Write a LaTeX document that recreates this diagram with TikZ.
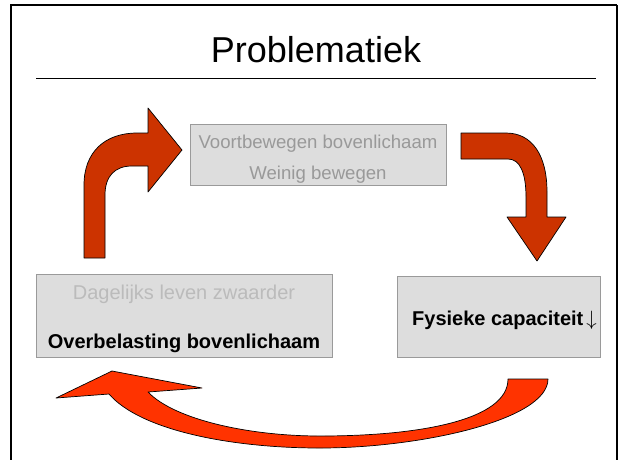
\documentclass[tikz,border=0pt]{standalone}
\usepackage{fontspec}
\setmainfont{Liberation Sans}
\definecolor{boxfill}{HTML}{DDDDDD}
\definecolor{boxline}{HTML}{9A9A9A}
\definecolor{greytext}{HTML}{999999}
\definecolor{lighttext}{HTML}{BBBBBB}
\definecolor{darkred}{HTML}{CC3300}
\definecolor{brightred}{HTML}{FF3300}
\begin{document}
\begin{tikzpicture}[x=1pt,y=-1pt,
  greybox/.style={draw=boxline,fill=boxfill,line width=1pt,inner sep=0pt},
  txt/.style={inner sep=0pt,anchor=base},
  blockarrow/.style={draw=black,line width=0.7pt,line join=round}]
\useasboundingbox (0,0) rectangle (620,459);
% frame
\draw[line width=2.8pt] (11,460) -- (11,5) -- (617,5);
\draw[line width=1.3pt] (617,5) -- (617,460);
% title
\node[txt] (title) at (316,62.5) {\fontsize{36}{40}\selectfont Problematiek};
\draw[line width=1pt] (36,78) -- (596,78);
% boxes
\node[greybox,minimum width=256pt,minimum height=61pt] (top) at (318,154.5) {};
\node[greybox,minimum width=296pt,minimum height=83pt] (left) at (184,315.5) {};
\node[greybox,minimum width=203pt,minimum height=81pt] (right) at (498.5,316.5) {};
% texts
\node[txt,text=greytext] (t1) at (318,148) {\fontsize{18.6}{22}\selectfont Voortbewegen bovenlichaam};
\node[txt,text=greytext] (t2) at (318,179) {\fontsize{18.6}{22}\selectfont Weinig bewegen};
\node[txt,text=lighttext] (l1) at (184,299) {\fontsize{20}{24}\selectfont Dagelijks leven zwaarder};
\node[txt] (l2) at (184,348) {\fontsize{20}{24}\selectfont\bfseries Overbelasting bovenlichaam};
\node[txt,anchor=base west] (r1) at (412,325) {\fontsize{20}{24}\selectfont\bfseries Fysieke capaciteit\hspace{3pt}$\downarrow$};
% arrow 1: up then right
\draw[blockarrow,fill=darkred] (84,258) -- (84,185) .. controls (84,152) and (105,133) .. (137,133) -- (148,133) -- (148,108) -- (182,150) -- (148,192) -- (148,166) -- (132,166) .. controls (115,166) and (105,176) .. (105,195) -- (105,258) -- cycle;
% arrow 2: right then down
\draw[blockarrow,fill=darkred] (461,133) -- (506,133) .. controls (532,133) and (547,155) .. (547,192) -- (547,217) -- (566,217) -- (537,261) -- (507,217) -- (526,217) -- (526,197) .. controls (526,173) and (520,159) .. (508,159) -- (461,159) -- cycle;
% arrow 3: curved back to the left
\draw[blockarrow,fill=brightred] (548,379) -- (508,379) .. controls (508,420) and (420,436) .. (320,436) .. controls (250,436) and (175,420) .. (148,392) -- (202,388) -- (112,371) -- (56,398) -- (109,394) .. controls (140,430) and (230,448) .. (320,448) .. controls (420,448) and (548,420) .. (548,379) -- cycle;
\end{tikzpicture}
\end{document}
